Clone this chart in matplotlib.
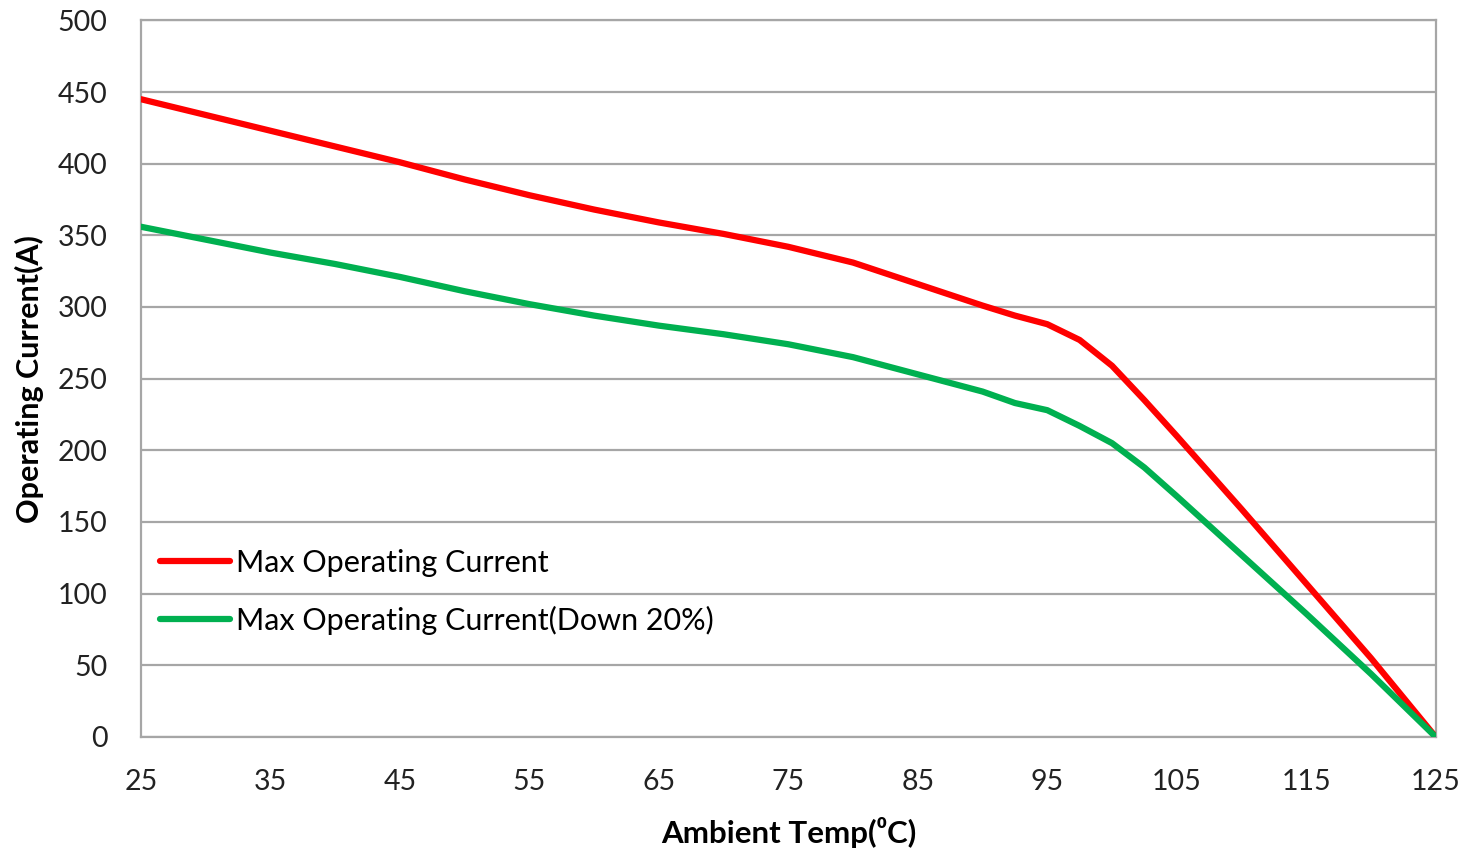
import matplotlib.pyplot as plt

plt.rcParams['font.family'] = ['Lato', 'DejaVu Sans']

# Ambient temperature (deg C) and current readings (A)
temps = [25, 30, 35, 40, 45, 50, 55, 60, 65, 70, 75, 80, 85, 90, 92.5, 95, 97.5,
         100, 102.5, 105, 110, 115, 120, 125]
max_current = [445, 434, 423, 412, 401, 389, 378, 368, 359, 351, 342, 331, 316, 301, 294,
               288, 277, 259, 235, 210, 159, 107, 55, 0]
derated_current = [356, 347, 338, 330, 321, 311, 302, 294, 287, 281, 274, 265, 253, 241, 233,
                   228, 217, 205, 188, 168, 127, 86, 44, 0]

x_ticks = [25, 35, 45, 55, 65, 75, 85, 95, 105, 115, 125]
y_ticks = [0, 50, 100, 150, 200, 250, 300, 350, 400, 450, 500]

fig = plt.figure(figsize=(14.68, 8.49), dpi=100)
ax = fig.add_axes([0.096, 0.132, 0.882, 0.844])

ax.plot(temps, max_current, color='#ff0000', lw=4.5, solid_joinstyle='round',
        solid_capstyle='round', label='Max Operating Current', zorder=3)
ax.plot(temps, derated_current, color='#00b050', lw=4.5, solid_joinstyle='round',
        solid_capstyle='round', label='Max Operating Current(Down 20%)', zorder=3)

ax.set_xlim(25, 125)
ax.set_ylim(0, 500)
ax.set_xticks(x_ticks)
ax.set_yticks(y_ticks)
ax.tick_params(axis='both', length=0, labelsize=20.5, colors='#222222')
ax.tick_params(axis='y', pad=24)
ax.tick_params(axis='x', pad=23)

ax.grid(axis='y', color='#a6a6a6', lw=1.6)
for side in ['top', 'bottom', 'left', 'right']:
    ax.spines[side].set_color('#a6a6a6')
    ax.spines[side].set_linewidth(1.6)

ax.set_xlabel('Ambient Temp(⁰C)', fontsize=22.5, fontweight='bold', labelpad=16)
ax.set_ylabel('Operating Current(A)', fontsize=22, fontweight='bold', labelpad=10)

ax.legend(loc='upper left', bbox_to_anchor=(0.0053, 0.28), borderaxespad=0, frameon=False,
          fontsize=22, handlelength=2.3, handletextpad=0.2, labelspacing=0.95)

fig.savefig('out.png', dpi=100)
